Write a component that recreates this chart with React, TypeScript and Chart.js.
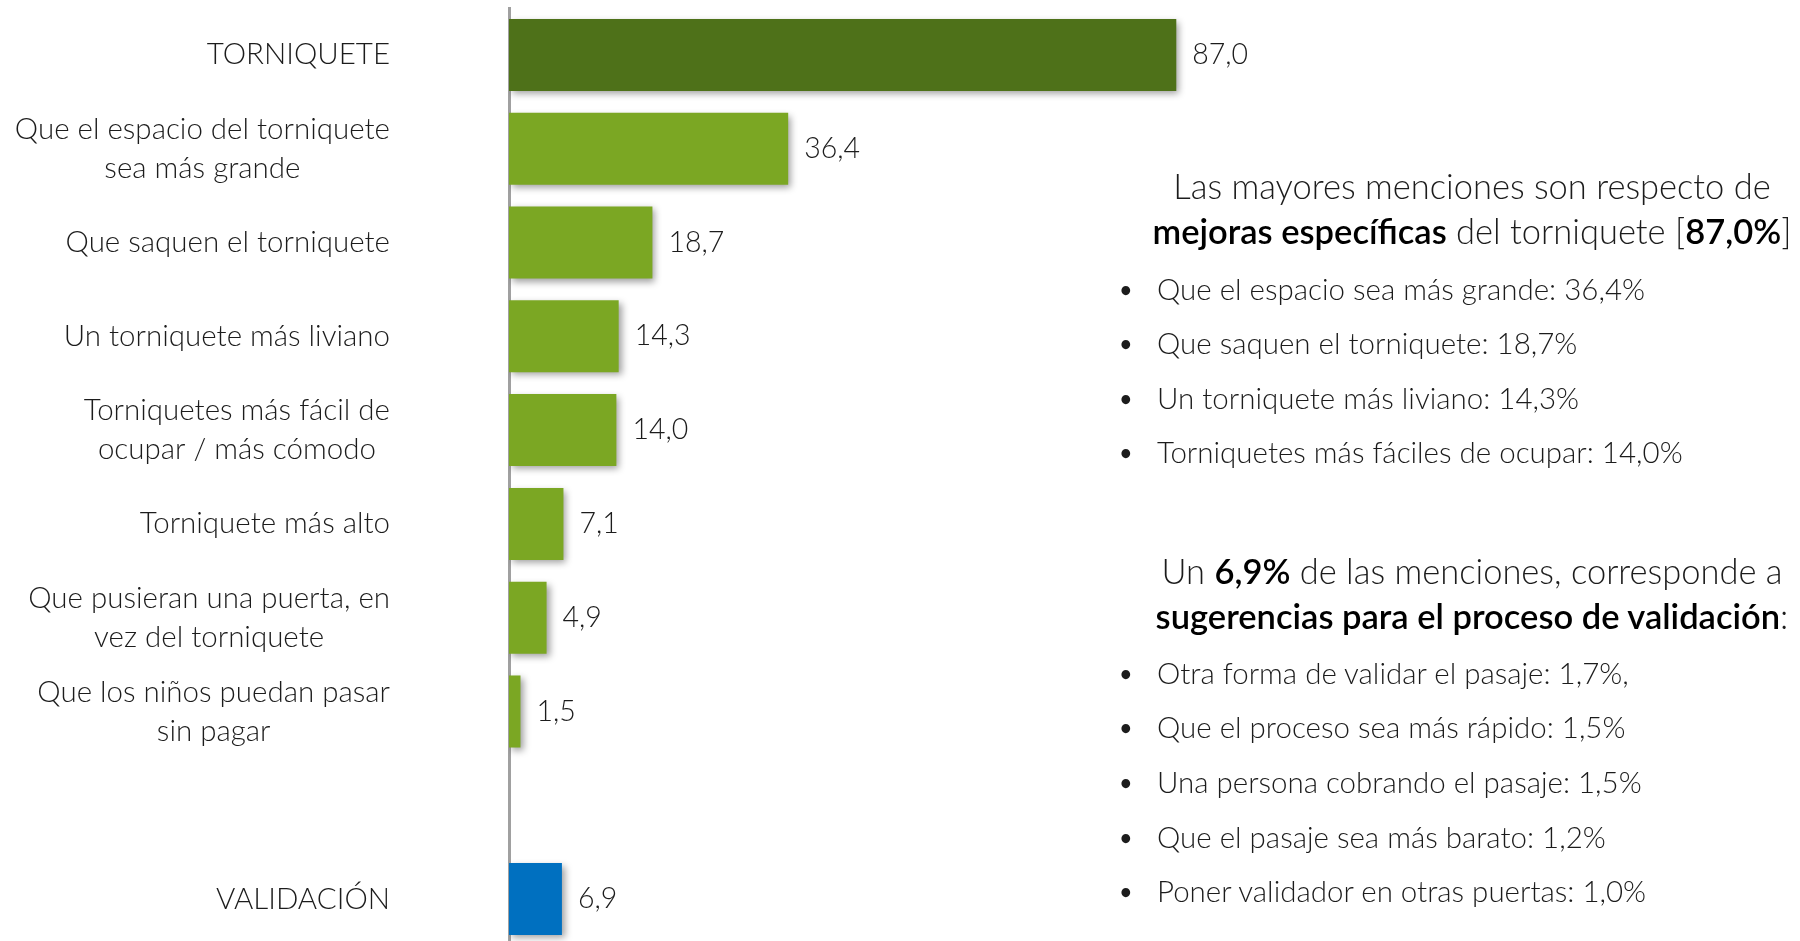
import React, { useEffect, useRef } from "react";
import { Chart, registerables } from "chart.js";

Chart.register(...registerables);

// ---------- DATA ----------
const categories: (string | string[])[] = [
  "TORNIQUETE",
  ["Que el espacio del torniquete", "sea más grande"],
  "Que saquen el torniquete",
  "Un torniquete más liviano",
  ["Torniquetes más fácil de", "ocupar / más cómodo"],
  "Torniquete más alto",
  ["Que pusieran una puerta, en", "vez del torniquete"],
  ["Que los niños puedan pasar", "sin pagar"],
  "",
  "VALIDACIÓN",
];
const values: (number | null)[] = [87.0, 36.4, 18.7, 14.3, 14.0, 7.1, 4.9, 1.5, null, 6.9];
const barColors: string[] = [
  "#4E7119", "#7BA723", "#7BA723", "#7BA723", "#7BA723",
  "#7BA723", "#7BA723", "#7BA723", "#7BA723", "#0070C0",
];

type Seg = { t: string; b?: boolean };
const heading1: Seg[][] = [
  [{ t: "Las mayores menciones son respecto de" }],
  [{ t: "mejoras específicas", b: true }, { t: " del torniquete [" }, { t: "87,0%", b: true }, { t: "]" }],
];
const bullets1: string[] = [
  "Que el espacio sea más grande: 36,4%",
  "Que saquen el torniquete: 18,7%",
  "Un torniquete más liviano: 14,3%",
  "Torniquetes más fáciles de ocupar: 14,0%",
];
const heading2: Seg[][] = [
  [{ t: "Un " }, { t: "6,9%", b: true }, { t: " de las menciones, corresponde a" }],
  [{ t: "sugerencias para el proceso de validación", b: true }, { t: ":" }],
];
const bullets2: string[] = [
  "Otra forma de validar el pasaje: 1,7%,",
  "Que el proceso sea más rápido: 1,5%",
  "Una persona cobrando el pasaje: 1,5%",
  "Que el pasaje sea más barato: 1,2%",
  "Poner validador en otras puertas: 1,0%",
];

// ---------- STYLE ----------
const FONT = "Lato, 'Open Sans', sans-serif";
const TEXT_COLOR = "#1c1c1c";
const LABEL_SIZE = 29.5;
const VALUE_SIZE = 28.5;
const BULLET_SIZE = 29.5;
const HEAD_SIZE = 34.5;
const LABEL_RIGHT = 390;
const LINE_H = 39;

const fmt = (v: number) => v.toFixed(1).replace(".", ",");

const shadowPlugin = {
  id: "barShadow",
  beforeDatasetsDraw(chart: any) {
    const ctx = chart.ctx;
    ctx.save();
    ctx.shadowColor = "rgba(0,0,0,0.38)";
    ctx.shadowBlur = 7;
    ctx.shadowOffsetX = 3;
    ctx.shadowOffsetY = 3;
  },
  afterDatasetsDraw(chart: any) {
    chart.ctx.restore();
  },
};

const labelPlugin = {
  id: "labels",
  afterDraw(chart: any) {
    const ctx = chart.ctx;
    const y = chart.scales.y;
    const x = chart.scales.x;
    ctx.save();
    ctx.fillStyle = TEXT_COLOR;
    ctx.textBaseline = "middle";
    categories.forEach((cat, i) => {
      const cy = y.getPixelForValue(i);
      const lines = Array.isArray(cat) ? cat : [cat];
      ctx.font = `300 ${LABEL_SIZE}px ${FONT}`;
      const widths = lines.map((l) => ctx.measureText(l).width);
      const bw = Math.max(...widths);
      const center = LABEL_RIGHT - bw / 2;
      ctx.textAlign = "center";
      lines.forEach((l, k) => {
        const ly = cy + (k - (lines.length - 1) / 2) * LINE_H;
        ctx.fillText(l, center, ly);
      });
      const v = values[i];
      if (v !== null && v !== undefined) {
        ctx.font = `300 ${VALUE_SIZE}px ${FONT}`;
        ctx.textAlign = "left";
        ctx.fillText(fmt(v), x.getPixelForValue(v) + 16, cy);
      }
    });
    ctx.restore();
  },
};

function TextLine({ segs, top, size }: { segs: Seg[]; top: number; size: number }) {
  return (
    <div
      style={{
        position: "absolute",
        left: 1100,
        width: 744,
        top: top - 25,
        height: 50,
        lineHeight: "50px",
        textAlign: "center",
        whiteSpace: "nowrap",
        fontSize: size,
        fontWeight: 300,
        color: TEXT_COLOR,
        fontFamily: FONT,
      }}
    >
      {segs.map((s, i) => (
        <span key={i} style={{ fontWeight: s.b ? 600 : 300, color: s.b ? "#000" : TEXT_COLOR }}>
          {s.t}
        </span>
      ))}
    </div>
  );
}

function Bullet({ text, top }: { text: string; top: number }) {
  return (
    <div
      style={{
        position: "absolute",
        left: 1120,
        top: top - 22,
        height: 44,
        lineHeight: "44px",
        whiteSpace: "nowrap",
        fontSize: BULLET_SIZE,
        fontWeight: 300,
        color: TEXT_COLOR,
        fontFamily: FONT,
      }}
    >
      <span style={{ display: "inline-block", width: 37, fontWeight: 700, fontSize: 20, verticalAlign: "top" }}>•</span>
      {text}
    </div>
  );
}

export default function App() {
  const ref = useRef<HTMLCanvasElement | null>(null);

  useEffect(() => {
    document.body.style.margin = "0";
    document.body.style.overflow = "hidden";
    const canvas = ref.current;
    if (!canvas) return;
    const chart = new Chart(canvas, {
      type: "bar",
      data: {
        labels: categories.map((c) => (Array.isArray(c) ? c.join(" ") : c)),
        datasets: [
          {
            data: values as any,
            backgroundColor: barColors,
            borderWidth: 0,
            barPercentage: 0.768,
            categoryPercentage: 1,
          },
        ],
      },
      options: {
        indexAxis: "y",
        responsive: false,
        animation: false,
        events: [],
        layout: { padding: { left: 509, right: 524, top: 8, bottom: 0 } },
        plugins: { legend: { display: false }, tooltip: { enabled: false } },
        scales: {
          x: { display: false, min: 0, max: 100 },
          y: {
            ticks: { display: false },
            grid: { display: false, drawTicks: false },
            border: { display: true, color: "#A0A0A0", width: 3 },
            afterFit: (s: any) => {
              s.width = 0;
            },
          },
        },
      },
      plugins: [shadowPlugin, labelPlugin],
    });
    return () => chart.destroy();
  }, []);

  return (
    <div style={{ position: "absolute", left: 0, top: 0, width: 1800, height: 941, overflow: "hidden", background: "#fff" }}>
      <canvas ref={ref} width={1800} height={946} style={{ display: "block" }} />
      {heading1.map((segs, i) => (
        <TextLine key={"h1" + i} segs={segs} top={[186, 231][i]} size={HEAD_SIZE} />
      ))}
      {bullets1.map((b, i) => (
        <Bullet key={"b1" + i} text={b} top={[289, 343, 398, 452][i]} />
      ))}
      {heading2.map((segs, i) => (
        <TextLine key={"h2" + i} segs={segs} top={[571, 616][i]} size={HEAD_SIZE} />
      ))}
      {bullets2.map((b, i) => (
        <Bullet key={"b2" + i} text={b} top={[673, 727, 782, 837, 891][i]} />
      ))}
    </div>
  );
}
